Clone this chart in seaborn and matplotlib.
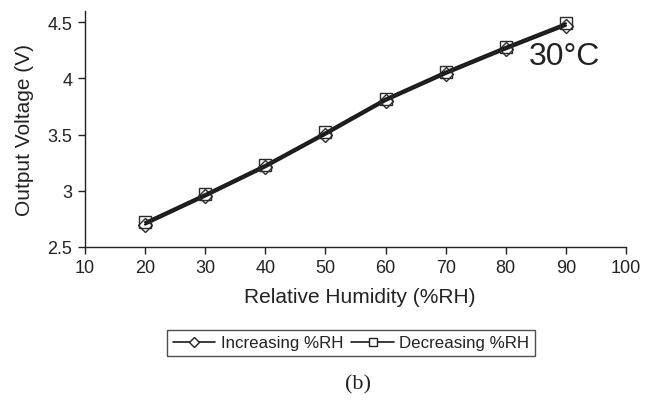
import matplotlib
matplotlib.use("Agg")
import matplotlib.pyplot as plt
import seaborn as sns
import pandas as pd
from matplotlib.lines import Line2D

rh = [20, 30, 40, 50, 60, 70, 80, 90]
increasing = [2.70, 2.95, 3.21, 3.50, 3.80, 4.04, 4.26, 4.47]
decreasing = [2.72, 2.97, 3.23, 3.52, 3.82, 4.06, 4.28, 4.49]
series_names = ["Increasing %RH", "Decreasing %RH"]
xticks = [10, 20, 30, 40, 50, 60, 70, 80, 90, 100]
yticks = [2.5, 3, 3.5, 4, 4.5]
ytick_labels = ["2.5", "3", "3.5", "4", "4.5"]

sns.set_style("white")
plt.rcParams['font.family'] = ['Liberation Sans', 'DejaVu Sans']

W, H = 654, 402
TXT = "#222222"

df = pd.DataFrame({
    "RH": rh * 2,
    "V": increasing + decreasing,
    "series": [series_names[0]] * len(rh) + [series_names[1]] * len(rh),
})

fig = plt.figure(figsize=(W / 100, H / 100), dpi=100)
ax = fig.add_axes([85 / W, 1 - 248 / H, (626 - 85) / W, (248 - 12) / H])

sns.lineplot(data=df, x="RH", y="V", hue="series", style="series",
             markers={series_names[0]: "D", series_names[1]: "s"},
             dashes=False, palette={series_names[0]: "#1a1a1a", series_names[1]: "#1a1a1a"},
             markersize=9, markeredgewidth=1.0, linewidth=1.7, ax=ax, legend=False)
for line, ms in zip(ax.lines, [7.5, 9]):
    line.set_markersize(ms)
    line.set_markerfacecolor("none")
    line.set_markeredgecolor("#2a2a2a")

ax.set_xlim(10, 100)
ax.set_ylim(2.5, 4.6)
ax.set_xticks(xticks)
ax.set_xticklabels([str(t) for t in xticks])
ax.set_yticks(yticks)
ax.set_yticklabels(ytick_labels)
ax.tick_params(axis="both", direction="out", length=5, width=1, labelsize=13,
               colors=TXT, bottom=True, left=True, pad=4)
for s in ["top", "right"]:
    ax.spines[s].set_visible(False)
for s in ["left", "bottom"]:
    ax.spines[s].set_color(TXT)
    ax.spines[s].set_linewidth(1.0)
ax.set_xlabel("Relative Humidity (%RH)", fontsize=15, color=TXT)
ax.set_ylabel("Output Voltage (V)", fontsize=15, color=TXT)
ax.xaxis.set_label_coords((360 - 85) / (626 - 85), -(298 - 248) / (248 - 12))
ax.yaxis.set_label_coords(-(85 - 25) / (626 - 85), (248 - 130) / (248 - 12))
ax.xaxis.label.set_va("center")
ax.yaxis.label.set_va("center")

fig.text(564 / W, 1 - 57 / H, "30°C", fontsize=23, color=TXT, ha="center", va="center")

handles = [
    Line2D([], [], color="#1a1a1a", lw=1.2, marker="D", markersize=5,
           markerfacecolor="white", markeredgecolor=TXT),
    Line2D([], [], color="#1a1a1a", lw=1.2, marker="s", markersize=6,
           markerfacecolor="white", markeredgecolor=TXT),
]
leg = fig.legend(handles, series_names, loc="center", bbox_to_anchor=(351 / W, 1 - 344 / H),
                 ncol=2, frameon=True, fancybox=False, fontsize=12.2, handlelength=2.5,
                 handletextpad=0.3, columnspacing=0.5, borderpad=0.35, borderaxespad=0,
                 edgecolor=TXT)
leg.get_frame().set_linewidth(1.0)
for t in leg.get_texts():
    t.set_color(TXT)

fig.text(358 / W, 1 - 385 / H, "(b)", fontsize=16, family="Liberation Serif",
         ha="center", va="center", color=TXT)

fig.savefig("out.png", dpi=100)
